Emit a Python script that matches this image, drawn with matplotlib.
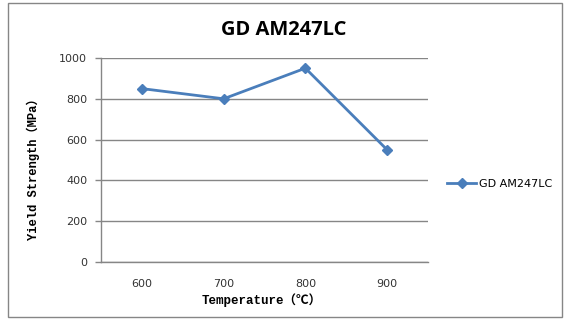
import matplotlib.pyplot as plt
from matplotlib.patches import Rectangle

# data
temperatures = ['600', '700', '800', '900']
yield_strength = [850, 800, 950, 550]
series_name = 'GD AM247LC'
y_ticks = [0, 200, 400, 600, 800, 1000]

LINE_BLUE = '#4A7EBB'
GRID_GRAY = '#868686'
LABEL_FONT = ['Liberation Mono', 'Noto Sans CJK SC', 'DejaVu Sans']

fig = plt.figure(figsize=(5.7, 3.33), dpi=100)
W, H = 570, 333

# outer chart border
fig.patches.append(Rectangle((8 / W, (H - 317) / H), 554 / W, 314 / H,
                             transform=fig.transFigure, fill=False,
                             edgecolor=GRID_GRAY, linewidth=1.0))

ax = fig.add_axes([101 / W, (H - 262) / H, 327 / W, 204 / H])
x = range(len(temperatures))
ax.plot(x, yield_strength, color=LINE_BLUE, linewidth=2.0,
        marker='D', markersize=5.5, label=series_name, zorder=3)

ax.set_xlim(-0.5, len(temperatures) - 0.5)
ax.set_ylim(0, 1000)
ax.set_xticks(list(x))
ax.set_xticklabels(temperatures)
ax.set_yticks(y_ticks)
ax.tick_params(axis='x', length=0, pad=12, labelsize=8, labelcolor='#333333')
ax.tick_params(axis='y', length=4, width=1, color=GRID_GRAY, pad=6,
               labelsize=8, labelcolor='#333333')
ax.yaxis.grid(True, color=GRID_GRAY, linewidth=1.0)
ax.set_axisbelow(True)
for side in ('top', 'right'):
    ax.spines[side].set_visible(False)
for side in ('left', 'bottom'):
    ax.spines[side].set_color(GRID_GRAY)
    ax.spines[side].set_linewidth(1.0)

fig.text(284 / W, 1 - 30 / H, series_name, ha='center', va='center',
         fontsize=14.5, fontweight='bold', family='Open Sans')
fig.text(262 / W, 1 - 300 / H, 'Temperature（℃）', ha='center', va='center',
         fontsize=9, fontweight='bold', family=LABEL_FONT)
fig.text(33 / W, 1 - 166 / H, 'Yield Strength（MPa）', ha='center', va='center',
         rotation=90, fontsize=8.7, fontweight='bold', family=LABEL_FONT)

fig.legend(loc='center left', bbox_to_anchor=(443 / W, 1 - 184 / H),
           frameon=False, fontsize=8, handlelength=2.6, handletextpad=0.2,
           borderaxespad=0)

fig.savefig('out.png', dpi=100)
